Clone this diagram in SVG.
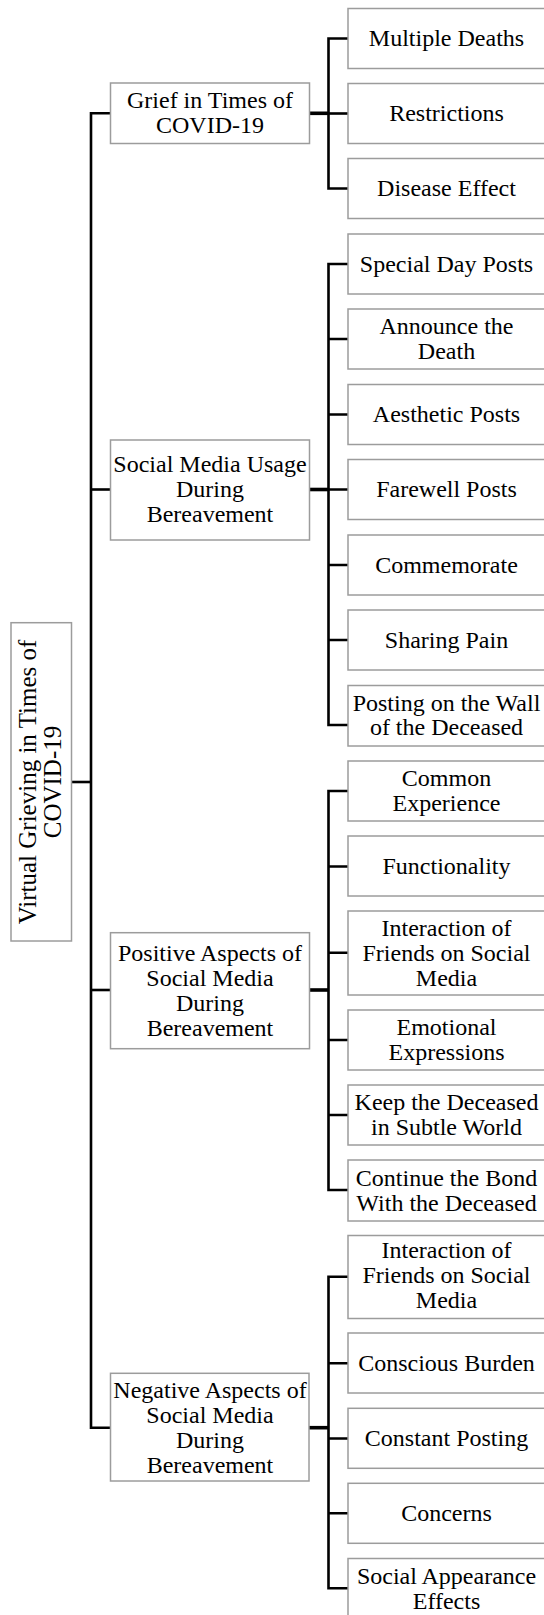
<svg xmlns="http://www.w3.org/2000/svg" width="544" height="1615" viewBox="0 0 544 1615">
  <style>
    .box { fill: #ffffff; stroke: #9c9c9c; stroke-width: 1.5; }
    .lbl { font-family: "Liberation Serif", "Times New Roman", serif; font-size: 24px; fill: #000000; text-anchor: middle; }
    .root-lbl { font-size: 25px; }
    .wire { fill: none; stroke: #000000; stroke-width: 2.6; stroke-linejoin: miter; stroke-linecap: butt; }
    .feed { fill: none; stroke: #000000; stroke-width: 3.6; }
  </style>
  <rect width="544" height="1615" fill="#ffffff"/>

  <!-- connectors -->
  <g id="connectors">
    <!-- main trunk -->
    <path class="wire" d="M110.5,113.3 H91 V1427.7 H110.5"/>
    <path class="wire" d="M71.5,782 H91"/>
    <path class="wire" d="M91,489.5 H110.5"/>
    <path class="wire" d="M91,990 H110.5"/>

    <!-- bracket: grief -->
    <path class="feed" d="M309.5,113.3 H328.5"/>
    <path class="wire" d="M348,38.5 H328.5 V188.5 H348"/>
    <path class="wire" d="M328.5,113.5 H348"/>

    <!-- bracket: social media usage -->
    <path class="feed" d="M309.5,489.5 H328.5"/>
    <path class="wire" d="M348,264 H328.5 V725 H348"/>
    <path class="wire" d="M328.5,339 H348 M328.5,414.5 H348 M328.5,489.5 H348 M328.5,565 H348 M328.5,640 H348"/>

    <!-- bracket: positive aspects -->
    <path class="feed" d="M309.5,990 H328.5"/>
    <path class="wire" d="M348,791 H328.5 V1190 H348"/>
    <path class="wire" d="M328.5,866.5 H348 M328.5,952.7 H348 M328.5,1040 H348 M328.5,1115 H348"/>

    <!-- bracket: negative aspects -->
    <path class="feed" d="M309,1427.7 H328.5"/>
    <path class="wire" d="M348,1276.7 H328.5 V1588.3 H348"/>
    <path class="wire" d="M328.5,1363.3 H348 M328.5,1438.5 H348 M328.5,1513.3 H348"/>
  </g>

  <!-- root -->
  <g id="root">
    <rect class="box" x="11" y="622.7" width="60.5" height="318.3"/>
    <text class="lbl root-lbl" transform="translate(41.25,782) rotate(-90)"><tspan x="0" y="-5">Virtual Grieving in Times of</tspan><tspan x="0" y="20">COVID-19</tspan></text>
  </g>

  <!-- first-level themes -->
  <g id="grief">
    <rect class="box" x="110.5" y="83" width="199" height="60.5"/>
    <text class="lbl"><tspan x="210" y="108">Grief in Times of</tspan><tspan x="210" y="133">COVID-19</tspan></text>
  </g>
  <g id="usage">
    <rect class="box" x="110.5" y="440" width="199" height="100"/>
    <text class="lbl"><tspan x="210" y="472">Social Media Usage</tspan><tspan x="210" y="497">During</tspan><tspan x="210" y="522">Bereavement</tspan></text>
  </g>
  <g id="positive">
    <rect class="box" x="110.5" y="932.7" width="199" height="116"/>
    <text class="lbl"><tspan x="210" y="960.5">Positive Aspects of</tspan><tspan x="210" y="985.5">Social Media</tspan><tspan x="210" y="1010.5">During</tspan><tspan x="210" y="1035.5">Bereavement</tspan></text>
  </g>
  <g id="negative">
    <rect class="box" x="110.5" y="1373.3" width="198.5" height="107.7"/>
    <text class="lbl"><tspan x="210" y="1397.5">Negative Aspects of</tspan><tspan x="210" y="1422.5">Social Media</tspan><tspan x="210" y="1447.5">During</tspan><tspan x="210" y="1472.5">Bereavement</tspan></text>
  </g>

  <!-- grief subthemes -->
  <g id="multiple-deaths">
    <rect class="box" x="348" y="8.5" width="197" height="60"/>
    <text class="lbl" x="446.5" y="46">Multiple Deaths</text>
  </g>
  <g id="restrictions">
    <rect class="box" x="348" y="83.5" width="197" height="60"/>
    <text class="lbl" x="446.5" y="121">Restrictions</text>
  </g>
  <g id="disease-effect">
    <rect class="box" x="348" y="158.5" width="197" height="60"/>
    <text class="lbl" x="446.5" y="196">Disease Effect</text>
  </g>

  <!-- usage subthemes -->
  <g id="special-day-posts">
    <rect class="box" x="348" y="234" width="197" height="60"/>
    <text class="lbl" x="446.5" y="271.5">Special Day Posts</text>
  </g>
  <g id="announce-the-death">
    <rect class="box" x="348" y="309" width="197" height="60"/>
    <text class="lbl"><tspan x="446.5" y="334">Announce the</tspan><tspan x="446.5" y="359">Death</tspan></text>
  </g>
  <g id="aesthetic-posts">
    <rect class="box" x="348" y="384.5" width="197" height="60"/>
    <text class="lbl" x="446.5" y="422">Aesthetic Posts</text>
  </g>
  <g id="farewell-posts">
    <rect class="box" x="348" y="459.5" width="197" height="60"/>
    <text class="lbl" x="446.5" y="497">Farewell Posts</text>
  </g>
  <g id="commemorate">
    <rect class="box" x="348" y="535" width="197" height="60"/>
    <text class="lbl" x="446.5" y="572.5">Commemorate</text>
  </g>
  <g id="sharing-pain">
    <rect class="box" x="348" y="610" width="197" height="60"/>
    <text class="lbl" x="446.5" y="647.5">Sharing Pain</text>
  </g>
  <g id="posting-on-the-wall">
    <rect class="box" x="348" y="685.5" width="197" height="60.5"/>
    <text class="lbl"><tspan x="446.5" y="710.5">Posting on the Wall</tspan><tspan x="446.5" y="735">of the Deceased</tspan></text>
  </g>

  <!-- positive subthemes -->
  <g id="common-experience">
    <rect class="box" x="348" y="761" width="197" height="60"/>
    <text class="lbl"><tspan x="446.5" y="786">Common</tspan><tspan x="446.5" y="811">Experience</tspan></text>
  </g>
  <g id="functionality">
    <rect class="box" x="348" y="836" width="197" height="60"/>
    <text class="lbl" x="446.5" y="873.5">Functionality</text>
  </g>
  <g id="interaction-positive">
    <rect class="box" x="348" y="911" width="197" height="84"/>
    <text class="lbl"><tspan x="446.5" y="935.5">Interaction of</tspan><tspan x="446.5" y="960.5">Friends on Social</tspan><tspan x="446.5" y="985.5">Media</tspan></text>
  </g>
  <g id="emotional-expressions">
    <rect class="box" x="348" y="1010" width="197" height="60"/>
    <text class="lbl"><tspan x="446.5" y="1035">Emotional</tspan><tspan x="446.5" y="1060">Expressions</tspan></text>
  </g>
  <g id="keep-the-deceased">
    <rect class="box" x="348" y="1085" width="197" height="60"/>
    <text class="lbl"><tspan x="446.5" y="1110">Keep the Deceased</tspan><tspan x="446.5" y="1135">in Subtle World</tspan></text>
  </g>
  <g id="continue-the-bond">
    <rect class="box" x="348" y="1160" width="197" height="61"/>
    <text class="lbl"><tspan x="446.5" y="1185.5">Continue the Bond</tspan><tspan x="446.5" y="1210.5">With the Deceased</tspan></text>
  </g>

  <!-- negative subthemes -->
  <g id="interaction-negative">
    <rect class="box" x="348" y="1235.5" width="197" height="83"/>
    <text class="lbl"><tspan x="446.5" y="1257.5">Interaction of</tspan><tspan x="446.5" y="1282.5">Friends on Social</tspan><tspan x="446.5" y="1307.5">Media</tspan></text>
  </g>
  <g id="conscious-burden">
    <rect class="box" x="348" y="1333" width="197" height="60"/>
    <text class="lbl" x="446.5" y="1370.5">Conscious Burden</text>
  </g>
  <g id="constant-posting">
    <rect class="box" x="348" y="1408.3" width="197" height="60"/>
    <text class="lbl" x="446.5" y="1445.8">Constant Posting</text>
  </g>
  <g id="concerns">
    <rect class="box" x="348" y="1483.3" width="197" height="60"/>
    <text class="lbl" x="446.5" y="1520.8">Concerns</text>
  </g>
  <g id="social-appearance-effects">
    <rect class="box" x="348" y="1558.5" width="197" height="60"/>
    <text class="lbl"><tspan x="446.5" y="1583.5">Social Appearance</tspan><tspan x="446.5" y="1608.5">Effects</tspan></text>
  </g>
</svg>
